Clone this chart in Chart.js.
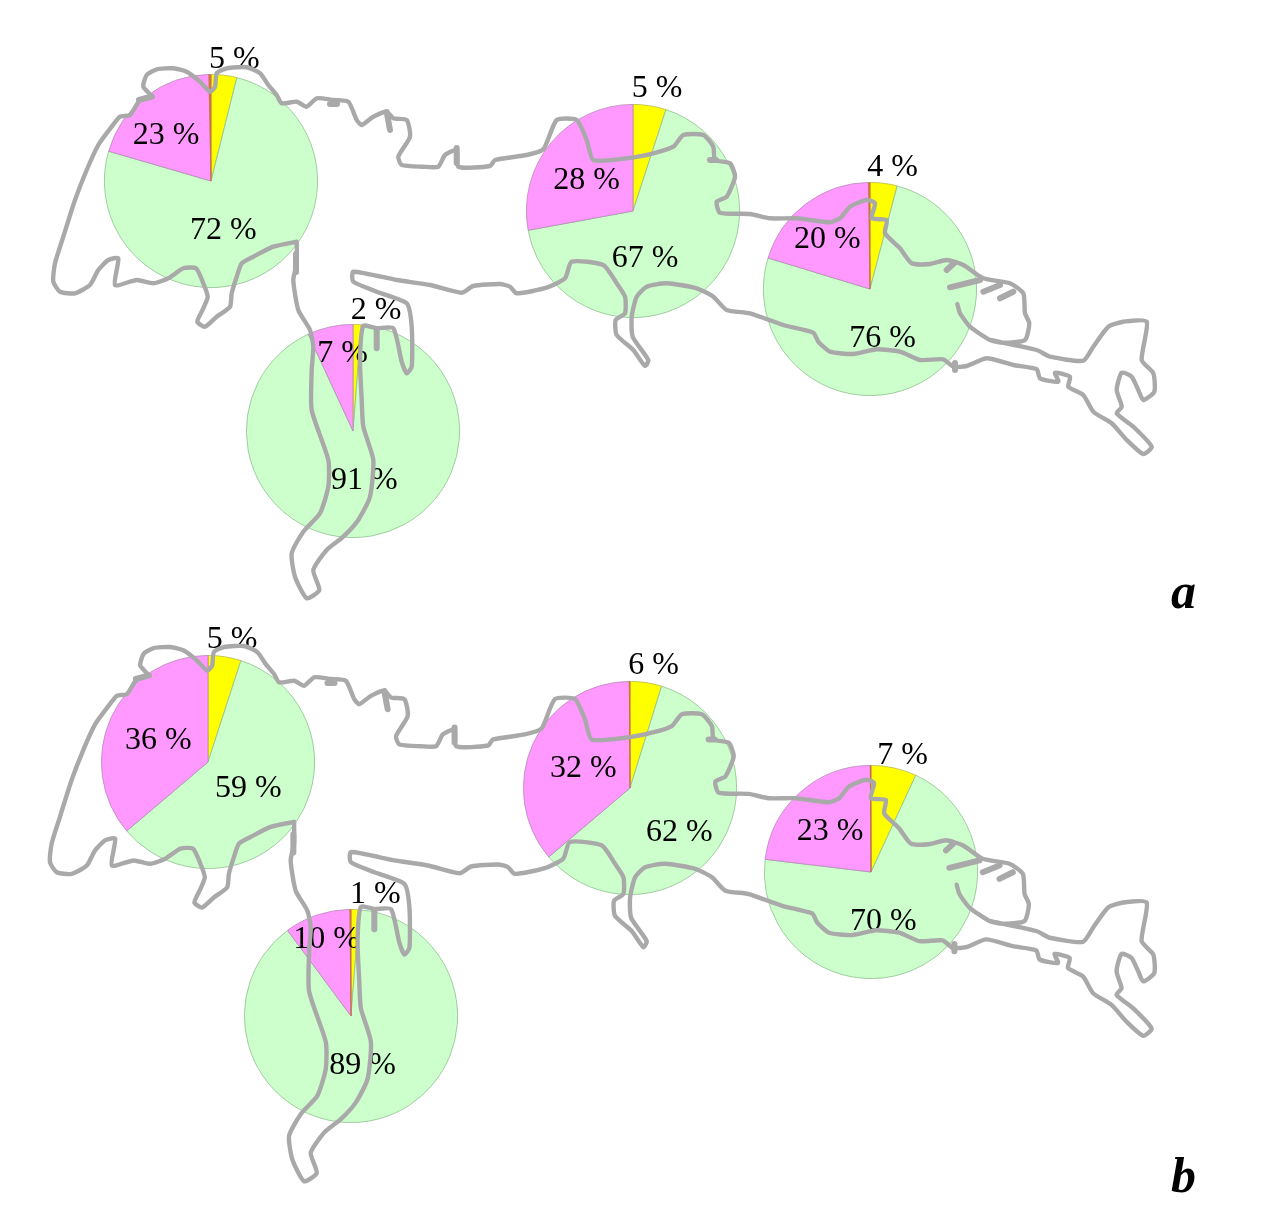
<!DOCTYPE html>
<html>
<head>
<meta charset="utf-8">
<title>Pie maps</title>
<script src="https://cdn.jsdelivr.net/npm/chart.js"></script>
<style>
    html, body { margin: 0; padding: 0; background: #fff; }
    #page { position: relative; width: 1267px; height: 1220px; overflow: hidden; }
    #page canvas { position: absolute; }
</style>
</head>
<body>
<div id="page"></div>
<script>
// Slice shares, order: a west, a centre, a east, a south, b west, b centre, b east, b south
const yellowShare = [3.9, 5.0, 4.1, 1.25, 5.0, 4.8, 6.9, 1.25];
const greenShare = [75.6, 67.1, 75.6, 91.85, 58.8, 59.0, 70.0, 88.6];
const pinkShare = [20.2, 27.9, 20.1, 6.9, 36.2, 36.1, 23.0, 10.0];
const orangeShare = [0.3, 0, 0.2, 0, 0, 0.1, 0.1, 0.15];

// Percent labels as printed on the picture
const yellowLabels = ['5 %', '5 %', '4 %', '2 %', '5 %', '6 %', '7 %', '1 %'];
const greenLabels = ['72 %', '67 %', '76 %', '91 %', '59 %', '62 %', '70 %', '89 %'];
const pinkLabels = ['23 %', '28 %', '20 %', '7 %', '36 %', '32 %', '23 %', '10 %'];
const panelLabels = ['a', 'b'];

// Coast outline in map units, null breaks the line
const coastX = [
    296.7, 273.3, 253.3, 241.7, 236.7, 231.7, 230, 216.7, 205, 197.3, 203.3, 207.7, 203.3, 196, 183.3, 168.3, 153.3, 136.7, 115,
    118.3, 108.3, 98.3, 90, 75, 60, 53.3, 55, 63.3, 75, 86.7, 98.3, 111.7, 120, 130, 140, 151.7, 143.3, 146.7, 156.7, 173.3,
    186.7, 200, 210, 215, 216.7, 226.7, 246.7, 260, 268.3, 276.7, 281.7, 296.7, 306.7, 316.7, 333.3, 348.3, 356.7, 361.7, 373.3,
    386.7, 393.3, 406.7, 410, 398.3, 401.7, 423.3, 438.3, 445, 456.7, 458.3, 490, 495, 526.7, 543.3, 556.7, 576.7, 586.7,
    593.3, 626.7, 653.3, 673.3, 683.3, 703.3, 713.3, 715, 730, 735, 726.7, 716.7, 720, 750, 770, 796.7, 830, 840, 850,
    866.7, 875, 871.7, 886.7, 885, 900, 911.7, 930, 946.7, 963.3, 983.3, 1010, 1023.3, 1025, 1029.3, 1025, 1003.3, 990, 970, 960, 957.3,
    null,
    990, 1036.7, 1050, 1083.3, 1093.3, 1108.3, 1123.3, 1146.7, 1141.7, 1153.3, 1154.3, 1143.3, 1138.3, 1131.7, 1121.7, 1116.7,
    1121.7, 1116.7, 1133.3, 1151.7, 1143.3, 1126.7, 1111.7, 1093.3, 1083.3, 1068.3, 1070, 1055, 1058.3, 1040, 1036.7, 1013.3,
    986.7, 966.7, 953.3, 943.3, 920, 900, 876.7, 853.3, 830, 818.3, 813.3, 783.3, 750, 726.7, 713.3, 696.7, 666.7, 646.7,
    636.7, 631.7, 632.7, 648.3, 645, 633.3, 616.7, 615.7, 625, 625, 616.7, 603.3, 571.7, 565, 546.7, 516.7, 510, 500, 473.3,
    461.7, 430, 396.7, 353.3, 353.3, 376.7, 406.7, 411.7, 411.7, 406.7, 401.7, 393.3, 376.7, 363.3, 360, 361.7,
    363.3, 373.3, 370, 358.3, 343.3, 326.7, 313.3, 319.3, 306.7, 295, 291.7, 303.3, 320, 328.3, 328.3, 311.7, 311.7, 313.3,
    310, 298.3, 293.3, 296.7, 296.7
];
const coastY = [
    241.7, 246.7, 256.7, 263.3, 276.7, 293.3, 306.7, 316.7, 326.7, 321.7, 308.3, 296.7, 283.3, 268.3, 268.3, 278.3, 283.3, 280, 285,
    258.3, 260, 270, 285, 293.3, 291.7, 281.7, 263.3, 236.7, 200, 170, 145, 126.7, 116.7, 115, 100, 96.7, 86.7, 75, 69.3, 68.3,
    71.7, 81.7, 91.7, 86.7, 73.3, 68.3, 67.3, 73.3, 85, 95, 103.3, 101.7, 106.7, 98.3, 100, 101.7, 120, 125, 116.7,
    111.7, 118.3, 120, 136.7, 156.7, 165, 166.7, 166.7, 155, 150, 166.7, 166, 160, 155, 149.3, 120, 120, 140,
    160, 158.3, 153.3, 146.7, 135, 135, 146.7, 160, 163.3, 176.7, 196.7, 201.7, 212.7, 214, 218.3, 218.3, 222.3, 218.3, 206.7,
    200, 203.3, 218.3, 220, 233.3, 248.3, 263.3, 264, 260, 265, 278.3, 283.3, 293.3, 313.3, 323.3, 340, 342.7, 340, 326.7, 313.3, 304,
    null,
    340, 350, 356.7, 360.7, 346.7, 326.7, 321.7, 321.7, 360, 373.3, 391.7, 400, 390, 376.7, 372.7, 390,
    406.7, 413.3, 426.7, 446.7, 454, 440, 423.3, 411.7, 395, 386.7, 376.7, 372.7, 381.7, 378.3, 369.3, 365,
    358.3, 366, 366.7, 359.3, 360, 351.7, 349.3, 354, 351.7, 341.7, 332.7, 325, 313.3, 310, 296.7, 288.3, 283.3, 286.7,
    296.7, 316.7, 336.7, 360, 366, 350, 335, 320, 313.3, 296.7, 283.3, 265, 261.7, 278.3, 287.7, 293.3, 286.7, 284, 286,
    292.7, 285, 280, 271.7, 281.7, 291.7, 303.3, 326.7, 366.7, 373.3, 361.7, 328.3, 328.3, 326, 360, 400,
    426.7, 460, 496.7, 520, 536.7, 550, 570, 590, 598.3, 576.7, 553.3, 531.7, 513.3, 486.7, 460, 410, 370, 346.7,
    330, 310, 280, 263.3, 241.7
];

// Short thick pieces of the coast: spits, river mouths and small islands
const spitX = [946.7, 954, null, 950, 980, null, 983.3, 1000, null, 1000, 1013.3, null, 386.7, 390, null, 376.7, 376.7, null, 330, 337, null, 456.7, 456.7, null, 139, 152, null, 296, 296, null, 710, 716, null, 955, 955];
const spitY = [270, 263.3, null, 287.3, 280, null, 291.7, 285, null, 298.3, 291.7, null, 112, 130, null, 329, 348.3, null, 104, 104, null, 148, 163, null, 100, 96.5, null, 254, 272, null, 160, 160, null, 363, 370];

const PAGE_W = 1267;
const PAGE_H = 1220;
const PIE_SIZE = 214;
const LABEL_FONT = '32px "Liberation Serif"';

// Layout of each pie and its three labels, same order as the share arrays
const pieLayout = [
    { cx: 210.5, cy: 181, yellow: [209, 68], pink: [132.7, 144], green: [190, 239.3] },
    { cx: 632.7, cy: 210.5, yellow: [631.7, 97.3], pink: [553.3, 189.3], green: [611.7, 267.3] },
    { cx: 869.5, cy: 288.5, yellow: [867.3, 176], pink: [794, 248.3], green: [849.3, 346.7] },
    { cx: 352.5, cy: 431.2, yellow: [350.7, 319], pink: [317.3, 362.3], green: [331, 489] },
    { cx: 208.2, cy: 762, yellow: [206.7, 648.3], pink: [125, 749.3], green: [215, 796.7] },
    { cx: 629.8, cy: 787.5, yellow: [628.3, 674], pink: [550, 776.7], green: [646, 840.7] },
    { cx: 871.2, cy: 872, yellow: [877.3, 764], pink: [796.7, 840], green: [850, 930] },
    { cx: 350.5, cy: 1015.6, yellow: [350, 902.7], pink: [293.3, 947.7], green: [329.3, 1074.3] }
];

const page = document.getElementById('page');

function addCanvas(left, top, width, height) {
    const canvas = document.createElement('canvas');
    canvas.width = width;
    canvas.height = height;
    canvas.style.left = left + 'px';
    canvas.style.top = top + 'px';
    canvas.style.width = width + 'px';
    canvas.style.height = height + 'px';
    page.appendChild(canvas);
    return canvas;
}

function drawPie(i) {
    const box = pieLayout[i];
    const canvas = addCanvas(box.cx - PIE_SIZE / 2, box.cy - PIE_SIZE / 2, PIE_SIZE, PIE_SIZE);
    new Chart(canvas, {
        type: 'pie',
        data: {
            labels: ['yellow', 'green', 'pink', 'orange'],
            datasets: [{
                data: [yellowShare[i], greenShare[i], pinkShare[i], orangeShare[i]],
                backgroundColor: ['#ffff00', '#ccffcc', '#ff99ff', '#e0703a'],
                borderColor: ['#b8b850', '#8fbf8f', '#b787b7', '#c8703a'],
                borderWidth: 0.8
            }]
        },
        options: {
            responsive: false,
            animation: false,
            layout: { padding: 0 },
            plugins: { legend: { display: false }, tooltip: { enabled: false } }
        }
    });
}

// Percent and panel labels go under the coast line, as in the picture
function labelPlugin(first, last, panelText, panelPos) {
    return {
        id: 'pieLabels',
        beforeDatasetsDraw(chart) {
            const ctx = chart.ctx;
            ctx.save();
            ctx.fillStyle = '#000';
            ctx.textAlign = 'left';
            ctx.textBaseline = 'alphabetic';
            ctx.font = LABEL_FONT;
            for (let i = first; i <= last; i++) {
                const box = pieLayout[i];
                ctx.fillText(yellowLabels[i], box.yellow[0], box.yellow[1]);
                ctx.fillText(pinkLabels[i], box.pink[0], box.pink[1]);
                ctx.fillText(greenLabels[i], box.green[0], box.green[1]);
            }
            ctx.font = 'italic bold 50px "Liberation Serif"';
            ctx.fillText(panelText, panelPos[0], panelPos[1]);
            ctx.restore();
        }
    };
}

function coastLine(xs, ys, width, tension) {
    return {
        data: xs.map((x, i) => ({ x: x, y: ys[i] })),
        showLine: true,
        spanGaps: false,
        borderColor: '#a9a9a9',
        borderWidth: width,
        borderJoinStyle: 'round',
        borderCapStyle: 'round',
        pointRadius: 0,
        tension: tension
    };
}

function drawCoast(xRange, yRange, plugin) {
    const canvas = addCanvas(0, 0, PAGE_W, PAGE_H);
    new Chart(canvas, {
        type: 'scatter',
        data: {
            datasets: [coastLine(coastX, coastY, 4.4, 0.2), coastLine(spitX, spitY, 6, 0)]
        },
        options: {
            responsive: false,
            animation: false,
            layout: { padding: 0 },
            scales: {
                x: { type: 'linear', display: false, min: xRange[0], max: xRange[1] },
                y: { type: 'linear', display: false, reverse: true, min: yRange[0], max: yRange[1] }
            },
            plugins: { legend: { display: false }, tooltip: { enabled: false } }
        },
        plugins: [plugin]
    });
}

yellowShare.forEach((_, i) => drawPie(i));
// Same outline twice, the second map sits lower and is very slightly larger
drawCoast([0, PAGE_W], [0, PAGE_H], labelPlugin(0, 3, panelLabels[0], [1171, 608]));
drawCoast([3.5, 1266.7], [-573.6, 636.7], labelPlugin(4, 7, panelLabels[1], [1171, 1192]));
</script>
</body>
</html>
